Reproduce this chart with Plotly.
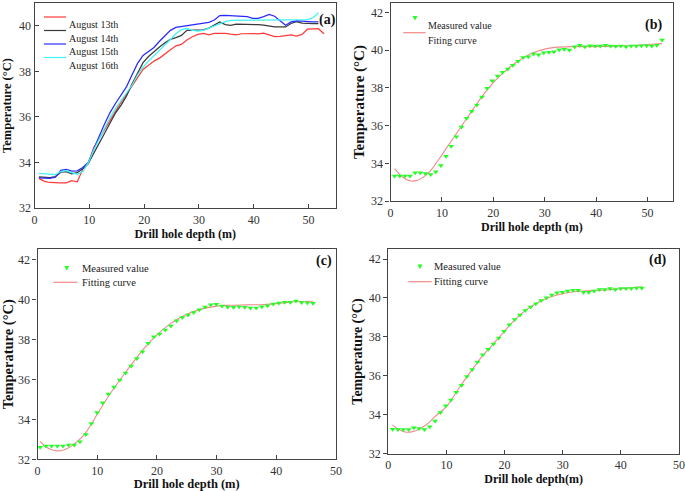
import plotly.graph_objects as go

W, H = 685, 491
FONT = 'Liberation Serif, Times New Roman, serif'

# ---- panel (a): four measured days ----
depth_a = [0.8, 1.8, 2.8, 3.8, 4.8, 5.8, 6.8, 7.8, 8.8, 9.8,
           10.8, 11.8, 12.8, 13.8, 14.8, 15.8, 16.8, 17.8, 18.8, 19.8,
           20.8, 21.8, 22.8, 23.8, 24.8, 25.8, 26.8, 27.8, 28.8, 29.8,
           30.8, 31.8, 32.8, 33.8, 34.8, 35.8, 36.8, 37.8, 38.8, 39.8,
           40.8, 41.8, 42.8, 43.8, 44.8, 45.8, 46.8, 47.8, 48.8, 49.8,
           50.8, 51.8, 52.8]
aug13 = [33.3, 33.17, 33.12, 33.1, 33.1, 33.1, 33.2, 33.15, 33.7, 33.95,
         34.65, 35.05, 35.45, 35.86, 36.28, 36.65, 37.0, 37.38, 37.75, 38.08,
         38.27, 38.45, 38.58, 38.78, 38.95, 39.12, 39.18, 39.38, 39.52, 39.62,
         39.67, 39.6, 39.67, 39.67, 39.67, 39.63, 39.6, 39.65, 39.67, 39.66,
         39.65, 39.68, 39.6, 39.52, 39.53, 39.58, 39.6, 39.55, 39.62, 39.85,
         39.87, 39.87, 39.65]
aug14 = [33.37, 33.35, 33.33, 33.38, 33.57, 33.6, 33.5, 33.55, 33.72, 33.95,
         34.4, 34.88, 35.33, 35.78, 36.18, 36.52, 36.92, 37.45, 37.95, 38.38,
         38.65, 38.88, 39.07, 39.25, 39.4, 39.48, 39.58, 39.8, 39.81, 39.81,
         39.82, 39.9, 40.05, 40.17, 40.05, 40.02, 40.07, 40.07, 40.07, 40.07,
         40.05, 40.03, 39.98, 39.95, 39.95, 39.95, 40.1, 40.18, 40.12, 40.1,
         40.1, 40.1]
aug15 = [33.32, 33.3, 33.3, 33.35, 33.65, 33.7, 33.62, 33.63, 33.78, 34.0,
         34.6, 35.15, 35.7, 36.2, 36.6, 36.95, 37.33, 37.85, 38.35, 38.7,
         38.87, 39.05, 39.32, 39.58, 39.8, 39.93, 39.97, 39.98, 40.03, 40.07,
         40.12, 40.15, 40.25, 40.45, 40.46, 40.45, 40.43, 40.43, 40.4, 40.33,
         40.33, 40.4, 40.5, 40.42, 40.2, 40.02, 40.17, 40.22, 40.2, 40.17,
         40.17, 40.17]
aug16 = [33.52, 33.5, 33.48, 33.47, 33.6, 33.64, 33.55, 33.48, 33.6, 33.98,
         34.55, 35.05, 35.55, 35.98, 36.37, 36.7, 37.05, 37.4, 37.85, 38.18,
         38.45, 38.68, 38.95, 39.15, 39.4, 39.65, 39.83, 39.88, 39.8, 39.77,
         39.8, 39.9, 40.0, 40.08, 40.18, 40.24, 40.25, 40.25, 40.25, 40.25,
         40.25, 40.25, 40.25, 40.25, 40.25, 40.25, 40.25, 40.25, 40.25, 40.27,
         40.35, 40.57]

# ---- panel (b) ----
depth_b = depth_a
meas_b = [33.33, 33.33, 33.33, 33.33, 33.5, 33.5, 33.46, 33.4, 33.55, 33.89,
          34.38, 34.9, 35.41, 35.93, 36.39, 36.76, 37.09, 37.52, 37.98, 38.38,
          38.63, 38.83, 39.0, 39.2, 39.41, 39.62, 39.66, 39.8, 39.76, 39.87,
          39.89, 39.92, 40.03, 40.05, 40.01, 40.19, 40.26, 40.19, 40.24, 40.22,
          40.22, 40.26, 40.22, 40.21, 40.22, 40.19, 40.22, 40.22, 40.24, 40.24,
          40.22, 40.26, 40.54]
fit_depth_b = [0.8, 2, 3, 4, 5, 6, 7, 8, 10, 12, 14, 16, 18, 20, 22, 24, 26,
               28, 30, 32, 35, 40, 45, 50, 52.8]
fit_b = [33.72, 33.35, 33.15, 33.06, 33.08, 33.2, 33.4, 33.68, 34.45, 35.25,
         36.05, 36.85, 37.62, 38.28, 38.82, 39.27, 39.62, 39.89, 40.06, 40.15,
         40.19, 40.19, 40.22, 40.3, 40.35]

# ---- panel (c) ----
depth_c = [0.45, 1.4, 2.35, 3.3, 4.26, 5.21, 6.16, 7.11, 8.07, 9.02,
           9.97, 10.92, 11.87, 12.83, 13.78, 14.73, 15.68, 16.63, 17.59, 18.54,
           19.49, 20.44, 21.39, 22.35, 23.3, 24.25, 25.2, 26.15, 27.11, 28.06,
           29.01, 29.96, 30.91, 31.87, 32.82, 33.77, 34.72, 35.67, 36.63, 37.58,
           38.53, 39.48, 40.43, 41.39, 42.34, 43.29, 44.24, 45.19, 46.15]
meas_c = [32.6, 32.67, 32.67, 32.67, 32.67, 32.72, 32.72, 32.88, 33.24, 33.79,
          34.34, 34.83, 35.27, 35.62, 35.96, 36.32, 36.66, 37.04, 37.38, 37.8,
          38.13, 38.27, 38.47, 38.67, 38.93, 39.09, 39.22, 39.34, 39.48, 39.62,
          39.73, 39.75, 39.67, 39.62, 39.6, 39.63, 39.6, 39.57, 39.57, 39.63,
          39.68, 39.77, 39.82, 39.85, 39.85, 39.92, 39.84, 39.83, 39.8]
fit_depth_c = [0.45, 1.5, 2.5, 3.3, 4.5, 5.5, 7, 8, 9, 10, 12, 14, 16, 18, 20,
               22, 24, 26, 28, 30, 32, 35, 38, 41, 43, 46.15]
fit_c = [32.9, 32.6, 32.46, 32.42, 32.48, 32.62, 32.98, 33.3, 33.75, 34.25,
         35.2, 36.05, 36.85, 37.6, 38.22, 38.72, 39.1, 39.38, 39.56, 39.66,
         39.7, 39.72, 39.74, 39.82, 39.88, 39.9]

# ---- panel (d) ----
depth_d = [0.75, 1.66, 2.57, 3.49, 4.4, 5.31, 6.22, 7.13, 8.05, 8.96,
           9.87, 10.78, 11.69, 12.61, 13.52, 14.43, 15.34, 16.25, 17.17, 18.08,
           18.99, 19.9, 20.81, 21.73, 22.64, 23.55, 24.46, 25.37, 26.29, 27.2,
           28.11, 29.02, 29.93, 30.85, 31.76, 32.67, 33.58, 34.49, 35.41, 36.32,
           37.23, 38.14, 39.05, 39.97, 40.88, 41.79, 42.7, 43.61]
meas_d = [33.26, 33.24, 33.24, 33.24, 33.33, 33.3, 33.24, 33.38, 33.68, 34.12,
          34.46, 34.76, 35.16, 35.52, 35.96, 36.32, 36.71, 37.08, 37.37, 37.64,
          37.94, 38.29, 38.62, 38.89, 39.13, 39.36, 39.53, 39.7, 39.87, 40.01,
          40.15, 40.27, 40.3, 40.36, 40.39, 40.39, 40.3, 40.3, 40.36, 40.44,
          40.44, 40.48, 40.44, 40.48, 40.48, 40.48, 40.51, 40.51]
fit_depth_d = [0.7, 1.5, 2.5, 3.2, 4, 5, 6, 7, 8, 10, 12, 14, 16, 18, 20, 22,
               24, 26, 28, 30, 32, 35, 38, 41, 43.6]
fit_d = [33.48, 33.3, 33.15, 33.1, 33.12, 33.22, 33.38, 33.6, 33.9, 34.42,
         35.3, 36.15, 36.95, 37.62, 38.3, 38.95, 39.45, 39.8, 40.06, 40.22,
         40.32, 40.38, 40.42, 40.5, 40.58]

RED, BLACK, BLUE, CYAN = '#ff3b3b', '#3a3a3a', '#2a2aff', '#3df5f5'
FIT = '#f28a8a'
MARK = '#22ff22'


def px(x):
    return x / W


def py(y):
    return 1 - y / H


fig = go.Figure()

for name, ys, col in [('August 13th', aug13, RED), ('August 14th', aug14, BLACK),
                      ('August 15th', aug15, BLUE), ('August 16th', aug16, CYAN)]:
    fig.add_trace(go.Scatter(x=depth_a[:len(ys)], y=ys, mode='lines', name=name,
                             line=dict(color=col, width=1.25), xaxis='x', yaxis='y'))

panels = [('2', depth_b, meas_b, fit_depth_b, fit_b),
          ('3', depth_c, meas_c, fit_depth_c, fit_c),
          ('4', depth_d, meas_d, fit_depth_d, fit_d)]
for k, dm, tm, df, tf in panels:
    fig.add_trace(go.Scatter(x=df, y=tf, mode='lines', line=dict(color=FIT, width=1.1, shape='spline'),
                             name='Fitting curve', xaxis='x' + k, yaxis='y' + k))
    fig.add_trace(go.Scatter(x=dm, y=tm, mode='markers', name='Measured value',
                             marker=dict(symbol='triangle-down', size=5, color=MARK, line=dict(width=0)),
                             xaxis='x' + k, yaxis='y' + k))


def xax(dom, rng, anchor, title_size):
    return dict(domain=[px(dom[0]), px(dom[1])], range=rng, anchor=anchor, dtick=10,
                showline=True, mirror=True, linecolor='#444', linewidth=1.3, automargin=False,
                ticks='inside', ticklen=4, tickcolor='#444', showgrid=False, zeroline=False,
                tickfont=dict(family=FONT, size=12, color='#333'),
                title=dict(text='<b>Drill hole depth (m)</b>', font=dict(family=FONT, size=title_size, color='#111'),
                           standoff=0))


def yax(dom, rng, anchor, ticks, title_size, standoff):
    return dict(domain=[py(dom[1]), py(dom[0])], range=rng, anchor=anchor, dtick=2,
                showline=True, mirror=True, linecolor='#444', linewidth=1.3, automargin=False,
                ticks=ticks, ticklen=4, tickcolor='#444', showgrid=False, zeroline=False,
                tickfont=dict(family=FONT, size=12, color='#333'),
                title=dict(text='<b>Temperature (°C)</b>', font=dict(family=FONT, size=title_size, color='#111'),
                           standoff=standoff))


xa = xax((34.5, 336), [0, 55], 'y', 12)
xb = xax((390.5, 673.3), [0, 55], 'y2', 12)
xc = xax((37.5, 336), [0, 50], 'y3', 12.5)
xd = xax((388.3, 679), [0, 50], 'y4', 12)
xd['title']['text'] = '<b>Drill hole depth(m)</b>'

fig.update_layout(
    width=W, height=H, margin=dict(l=0, r=0, t=0, b=0),
    paper_bgcolor='white', plot_bgcolor='white', showlegend=False,
    xaxis=xa, xaxis2=xb, xaxis3=xc, xaxis4=xd,
    yaxis=yax((3, 208), [32, 41], 'x', 'inside', 12.5, 4),
    yaxis2=yax((3.1, 201), [32, 42.5], 'x2', 'outside', 15, 2),
    yaxis3=yax((249.3, 459.3), [32, 42.5], 'x3', 'outside', 14.5, 4),
    yaxis4=yax((249.3, 453.7), [32, 42.5], 'x4', 'outside', 14, 2),
)

# panel tags
for tag, x, y in [('(a)', 327, 10), ('(b)', 664, 15), ('(c)', 324, 260.7), ('(d)', 668, 260)]:
    fig.add_annotation(text='<b>%s</b>' % tag, x=px(x), y=py(y), xref='paper', yref='paper',
                       showarrow=False, font=dict(family=FONT, size=14, color='#111'))

# legends drawn as keys + labels
shapes = []


def line_key(x0, x1, y, col, label, tx, size):
    shapes.append(dict(type='line', xref='paper', yref='paper', x0=px(x0), x1=px(x1), y0=py(y), y1=py(y),
                       line=dict(color=col, width=1.2)))
    fig.add_annotation(text=label, x=px(tx), y=py(y), xref='paper', yref='paper', xanchor='left',
                       showarrow=False, font=dict(family=FONT, size=size, color='#222'))


def marker_key(x, y, label, tx, size):
    shapes.append(dict(type='path', xref='paper', yref='paper', fillcolor=MARK, line=dict(width=0),
                       path='M %f,%f L %f,%f L %f,%f Z' % (px(x - 2.5), py(y - 2.2), px(x + 2.5), py(y - 2.2),
                                                          px(x), py(y + 2.2))))
    fig.add_annotation(text=label, x=px(tx), y=py(y), xref='paper', yref='paper', xanchor='left',
                       showarrow=False, font=dict(family=FONT, size=size, color='#222'))


for label, col, y in [('August 13th', RED, 17), ('August 14th', BLACK, 30.5),
                      ('August 15th', BLUE, 44), ('August 16th', CYAN, 57.5)]:
    line_key(44, 66, y, col, label, 67, 10)

marker_key(415, 18.3, 'Measured value', 426, 10)
line_key(403.3, 425.7, 32.7, FIT, 'Fiting curve', 426, 10)
marker_key(66.7, 268.3, 'Measured value', 80, 10.5)
line_key(53.3, 77.3, 282.3, FIT, 'Fitting curve', 80, 10.5)
marker_key(420, 266.7, 'Measured value', 432.5, 10.5)
line_key(408.3, 431.7, 281.7, FIT, 'Fitting curve', 432.5, 10.5)

fig.update_layout(shapes=shapes)

# the page's default body margin would shift the whole figure by 8px
fig.write_html("out.html", config={'displayModeBar': False},
               post_script="document.body.style.margin='0';")
